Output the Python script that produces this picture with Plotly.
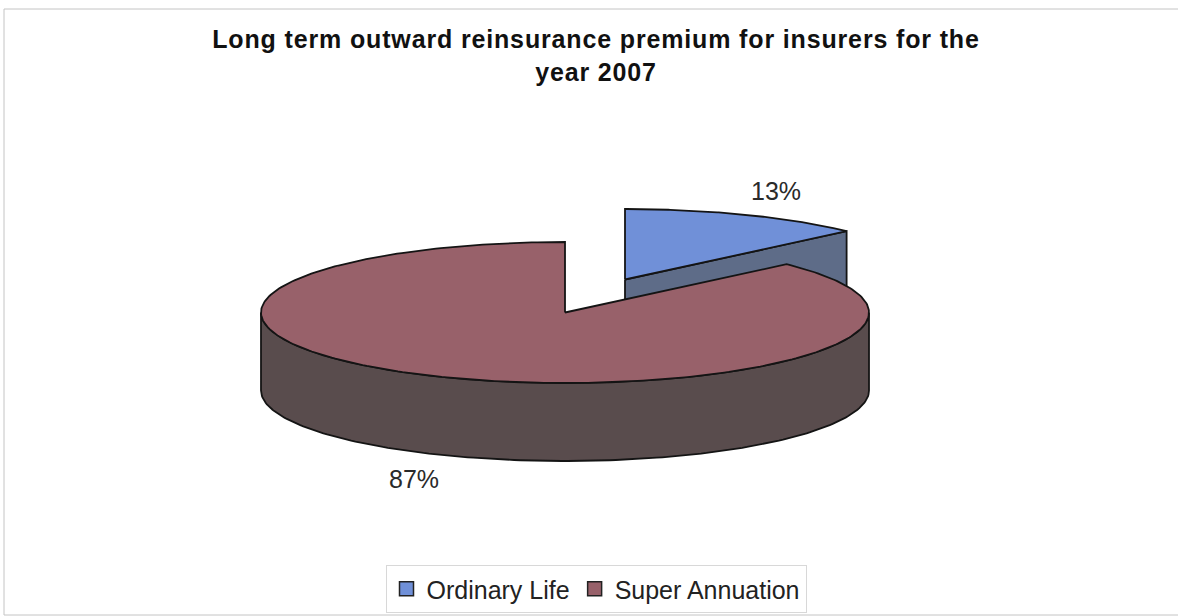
import numpy as np
import plotly.graph_objects as go

categories = ["Ordinary Life", "Super Annuation"]
shares = [13, 87]
top_colors = ["#7090d8", "#98616a"]
side_colors = ["#5e6c88", "#594c4d"]
title_text = "Long term outward reinsurance premium for insurers for the<br>year 2007"

W, H = 1178, 616
RX, RY, DEPTH = 304, 70.5, 78
CENTER = (565, 312.5)
EXPLODE = (60, -33)
OUT = "#141414"


def rim(a0, a1, cx, cy, dy=0, n=160):
    t = np.radians(np.linspace(a0, a1, n))
    return cx + RX * np.sin(t), cy - RY * np.cos(t) + dy


def poly(x, y, fill, name):
    return go.Scatter(x=list(x), y=list(y), mode="lines", fill="toself", fillcolor=fill,
                      line=dict(color=OUT, width=1.8), showlegend=False, hoverinfo="skip", name=name)


sweep = shares[0] / sum(shares) * 360
bx, by = CENTER[0] + EXPLODE[0], CENTER[1] + EXPLODE[1]
rx, ry = CENTER

fig = go.Figure()

# blue slice: cut face, then top
tip_x, tip_y = rim(sweep, sweep, bx, by, n=1)
fig.add_trace(poly([bx, tip_x[0], tip_x[0], bx, bx],
                   [by, tip_y[0], tip_y[0] + DEPTH, by + DEPTH, by], side_colors[0], categories[0]))
ax, ay = rim(0, sweep, bx, by)
fig.add_trace(poly(np.r_[bx, ax, bx], np.r_[by, ay, by], top_colors[0], categories[0]))

# red slice: outer wall, then top
ux, uy = rim(90, 270, rx, ry)
lx, ly = rim(270, 90, rx, ry, DEPTH)
fig.add_trace(poly(np.r_[ux, lx, ux[0]], np.r_[uy, ly, uy[0]], side_colors[1], categories[1]))
ax, ay = rim(sweep, 360, rx, ry, n=300)
fig.add_trace(poly(np.r_[rx, ax, rx], np.r_[ry, ay, ry], top_colors[1], categories[1]))

# legend entries
for c, col in zip(categories, top_colors):
    fig.add_trace(go.Scatter(x=[None], y=[None], mode="markers", name=c,
                             marker=dict(symbol="square", size=14, color=col,
                                         line=dict(color="#222", width=1.5))))

# percentage labels, placed from each slice's mid angle
mid0 = np.radians(sweep / 2)
mid1 = np.radians(sweep + (360 - sweep) / 2)
lbl = dict(showarrow=False, font=dict(family="Liberation Sans", size=25, color="#2a2a2a"),
           xref="x", yref="y")
fig.add_annotation(x=bx + RX * np.sin(mid0) * 1.25, y=by - RY * np.cos(mid0) * 1.375,
                   text=f"{shares[0]}%", **lbl)
fig.add_annotation(x=rx + RX * np.sin(mid1) * 1.25, y=ry - RY * np.cos(mid1) * 1.15 + DEPTH + 14,
                   text=f"{shares[1]}%", **lbl)

fig.update_layout(
    width=W, height=H, autosize=False,
    margin=dict(l=0, r=0, t=0, b=0),
    paper_bgcolor="white", plot_bgcolor="white",
    title=dict(text=title_text, x=596 / W, xanchor="center", y=1 - 48 / H, yanchor="middle",
               font=dict(family="Liberation Sans", size=25, color="#111", weight="bold")),
    xaxis=dict(range=[0, W], visible=False, fixedrange=True),
    yaxis=dict(range=[H, 0], visible=False, fixedrange=True),
    legend=dict(orientation="h", x=596 / W, xanchor="center", y=1 - 589 / H, yanchor="middle",
                font=dict(family="Liberation Sans", size=25, color="#222"),
                bordercolor="#d8d8d8", borderwidth=1, bgcolor="white", itemwidth=30),
    shapes=[dict(type="rect", xref="x", yref="y", x0=4, y0=9, x1=1190, y1=615,
                 line=dict(color="#c4c4c4", width=1), layer="below")],
)

post = ("document.documentElement.style.overflow='hidden';document.body.style.margin='0';"
        "document.querySelectorAll('.gtitle').forEach(function(t){t.style.letterSpacing='0.85px';});")
fig.write_html("out.html", post_script=post, config=dict(displayModeBar=False))
